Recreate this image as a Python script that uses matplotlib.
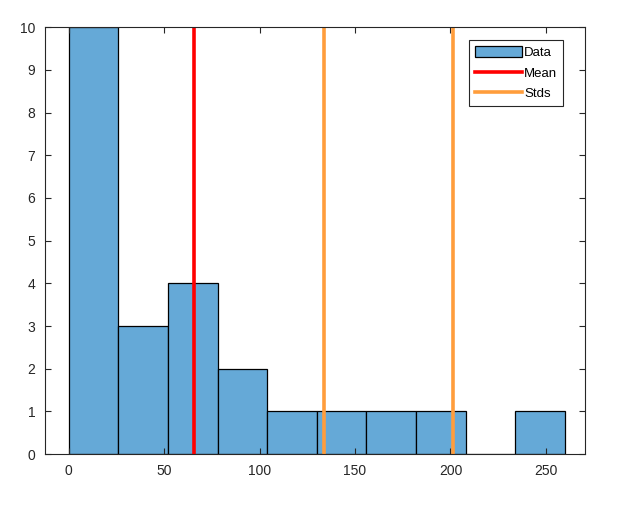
import matplotlib
matplotlib.use("Agg")
import matplotlib.pyplot as plt
import numpy as np

# histogram bins (bin width 26) and counts
bin_edges = [0, 26, 52, 78, 104, 130, 156, 182, 208, 234, 260]
counts = [10, 3, 4, 2, 1, 1, 1, 1, 0, 1]
mean_value = 65.5
std_value = 68.0
std_lines = [mean_value + std_value, mean_value + 2 * std_value]

xticks = [0, 50, 100, 150, 200, 250]
yticks = list(range(0, 11))

BAR_COLOR = "#65a9d7"
MEAN_COLOR = "#ff0000"
STD_COLOR = "#ff9d3c"
AXIS_COLOR = "#262626"

plt.rcParams["font.family"] = ["Liberation Sans", "DejaVu Sans"]

fig = plt.figure(figsize=(6.29, 5.12), dpi=100)
ax = fig.add_axes([0.0715, 0.113, 0.8585, 0.834])

edges = np.array(bin_edges, dtype=float)
h_data = ax.bar(edges[:-1], counts, width=np.diff(edges), align="edge",
                color=BAR_COLOR, edgecolor="black", linewidth=0.9, zorder=1)
h_mean = ax.axvline(mean_value, color=MEAN_COLOR, lw=2.6, zorder=2)
h_std = None
for s in std_lines:
    line = ax.axvline(s, color=STD_COLOR, lw=2.6, zorder=2)
    h_std = h_std or line

ax.set_xlim(-12.5, 270.5)
ax.set_ylim(0, 10)
ax.set_xticks(xticks)
ax.set_yticks(yticks)
ax.tick_params(direction="in", top=True, right=True, labeltop=False, labelright=False,
               colors=AXIS_COLOR, labelsize=10, length=4, width=0.8, pad=7)
for sp in ax.spines.values():
    sp.set_color(AXIS_COLOR)
    sp.set_linewidth(0.8)

leg = ax.legend([h_data, h_mean, h_std], ["Data", "Mean", "Stds"],
                loc="upper right", bbox_to_anchor=(0.965, 0.975), fontsize=9.5,
                handlelength=3.6, handleheight=0.9, handletextpad=0.15, borderpad=0.45,
                labelspacing=0.55, fancybox=False, framealpha=1, edgecolor=AXIS_COLOR,
                borderaxespad=0.2)
leg.get_frame().set_linewidth(0.8)

fig.savefig("out.png", dpi=100)
